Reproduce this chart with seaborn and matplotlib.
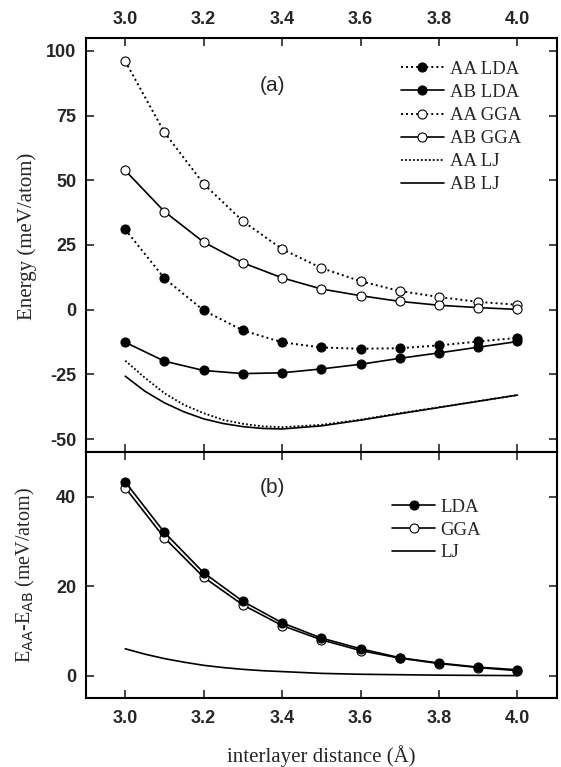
import numpy as np
import pandas as pd
import matplotlib
matplotlib.use("Agg")
import matplotlib.pyplot as plt
import seaborn as sns

# interlayer distances of the DFT points (Angstrom)
x_dft = [3.0, 3.1, 3.2, 3.3, 3.4, 3.5, 3.6, 3.7, 3.8, 3.9, 4.0]

# panel (a): energies (meV/atom)
aa_lda = [31.0, 12.1, -0.3, -8.0, -12.6, -14.6, -15.1, -14.9, -13.8, -12.3, -10.9]
ab_lda = [-12.6, -19.9, -23.5, -24.7, -24.4, -22.9, -21.1, -18.8, -16.7, -14.5, -12.3]
aa_gga = [96.0, 68.5, 48.6, 34.2, 23.4, 16.1, 11.0, 7.2, 4.9, 3.0, 1.9]
ab_gga = [53.8, 37.9, 26.1, 18.1, 12.3, 8.0, 5.4, 3.2, 1.7, 0.8, 0.1]

# Lennard-Jones curves, read on a finer grid
x_lj = [3.0, 3.05, 3.1, 3.15, 3.2, 3.25, 3.3, 3.35, 3.4, 3.5, 3.6, 3.7, 3.8, 3.9, 4.0]
aa_lj = [-19.7, -26.3, -32.3, -36.8, -40.0, -42.6, -44.1, -45.1, -45.4, -44.5, -42.5, -40.0, -37.7, -35.35, -33.0]
ab_lj = [-25.7, -31.5, -36.0, -39.5, -42.2, -44.0, -45.2, -45.9, -46.1, -44.9, -42.7, -40.2, -37.8, -35.4, -33.0]

# panel (b): E_AA - E_AB (meV/atom)
diff_lda = [43.3, 32.0, 23.0, 16.6, 11.8, 8.4, 6.0, 4.0, 2.8, 1.9, 1.3]
diff_gga = [42.0, 30.8, 22.0, 15.8, 11.2, 8.0, 5.6, 3.9, 2.7, 1.8, 1.1]
diff_lj = [6.0, 4.8, 3.8, 3.0, 2.3, 1.8, 1.4, 1.1, 0.9, 0.5, 0.3, 0.2, 0.1, 0.05, 0.0]

x_ticks = [3.0, 3.2, 3.4, 3.6, 3.8, 4.0]
y_ticks_a = [-50, -25, 0, 25, 50, 75, 100]
y_ticks_b = [0, 20, 40]

sns.set_style("ticks")
plt.rcParams["font.family"] = ["Liberation Serif", "DejaVu Serif"]
plt.rcParams["axes.unicode_minus"] = False

fig = plt.figure(figsize=(5.61, 7.67), dpi=100)
ax1 = fig.add_axes([0.1533, 0.4107, 0.8390, 0.5398])
ax2 = fig.add_axes([0.1533, 0.0900, 0.8390, 0.3207])

dotted = (0, (1.0, 1.6))
fine_dot = (0, (1.0, 1.2))
ms = 6.5
mew = 0.8

df_a = pd.DataFrame({"x": x_dft, "aa_lda": aa_lda, "ab_lda": ab_lda,
                     "aa_gga": aa_gga, "ab_gga": ab_gga})
df_lj = pd.DataFrame({"x": x_lj, "aa": aa_lj, "ab": ab_lj, "diff": diff_lj})
df_b = pd.DataFrame({"x": x_dft, "lda": diff_lda, "gga": diff_gga})

# panel (a)
sns.lineplot(data=df_a, x="x", y="aa_lda", ax=ax1, color="black", lw=1.4,
             linestyle=dotted, marker="o", markersize=ms, markerfacecolor="black",
             markeredgecolor="black", markeredgewidth=mew, label="AA LDA")
sns.lineplot(data=df_a, x="x", y="ab_lda", ax=ax1, color="black", lw=1.2,
             marker="o", markersize=ms, markerfacecolor="black",
             markeredgecolor="black", markeredgewidth=mew, label="AB LDA")
sns.lineplot(data=df_a, x="x", y="aa_gga", ax=ax1, color="black", lw=1.4,
             linestyle=dotted, marker="o", markersize=ms, markerfacecolor="white",
             markeredgecolor="black", markeredgewidth=mew, label="AA GGA")
sns.lineplot(data=df_a, x="x", y="ab_gga", ax=ax1, color="black", lw=1.2,
             marker="o", markersize=ms, markerfacecolor="white",
             markeredgecolor="black", markeredgewidth=mew, label="AB GGA")
sns.lineplot(data=df_lj, x="x", y="aa", ax=ax1, color="black", lw=1.3,
             linestyle=fine_dot, label="AA LJ")
sns.lineplot(data=df_lj, x="x", y="ab", ax=ax1, color="black", lw=1.2,
             label="AB LJ")

# panel (b)
sns.lineplot(data=df_b, x="x", y="gga", ax=ax2, color="black", lw=1.2,
             marker="o", markersize=ms, markerfacecolor="white",
             markeredgecolor="black", markeredgewidth=mew, label="GGA")
sns.lineplot(data=df_b, x="x", y="lda", ax=ax2, color="black", lw=1.2,
             marker="o", markersize=ms, markerfacecolor="black",
             markeredgecolor="black", markeredgewidth=mew, label="LDA")
sns.lineplot(data=df_lj, x="x", y="diff", ax=ax2, color="black", lw=1.2,
             label="LJ")

ax1.set_ylim(-55, 105)
ax1.set_yticks(y_ticks_a)
ax2.set_ylim(-5, 50)
ax2.set_yticks(y_ticks_b)

for ax in (ax1, ax2):
    ax.set_xlim(2.9, 4.1)
    ax.set_xticks(x_ticks)
    ax.set_xticklabels([f"{t:.1f}" for t in x_ticks])
    for sp in ax.spines.values():
        sp.set_visible(True)
        sp.set_linewidth(1.5)
        sp.set_color("black")
    ax.tick_params(direction="in", length=6, width=1.2, top=True, bottom=True,
                   left=True, right=True, labelsize=13, pad=7)
    for t in ax.xaxis.get_major_ticks() + ax.yaxis.get_major_ticks():
        for lab in (t.label1, t.label2):
            lab.set_family(["Liberation Sans", "DejaVu Sans"])
            lab.set_fontweight("bold")

ax1.tick_params(axis="x", labeltop=True, labelbottom=False)
ax1.set_xlabel("")
ax1.set_ylabel("Energy (meV/atom)", fontsize=15)
ax1.yaxis.set_label_coords(-0.105, 0.52)

ax2.tick_params(axis="x", labeltop=False, labelbottom=True, pad=9)
ax2.set_xlabel("interlayer distance (Å)", fontsize=15, labelpad=13)
ax2.set_ylabel(r"E$_{\mathrm{AA}}$-E$_{\mathrm{AB}}$ (meV/atom)", fontsize=14.5)
ax2.yaxis.set_label_coords(-0.105, 0.5)

ax1.text(3.376, 86.5, "(a)", ha="center", va="center", fontsize=15,
         family=["Liberation Sans", "DejaVu Sans"])
ax2.text(3.376, 42, "(b)", ha="center", va="center", fontsize=15,
         family=["Liberation Sans", "DejaVu Sans"])

leg1 = ax1.legend(loc="upper left", bbox_to_anchor=(0.669, 0.945), frameon=False,
                  fontsize=13.5, handlelength=2.3, handletextpad=0.3,
                  labelspacing=0.32, borderpad=0, borderaxespad=0, numpoints=1)
h, l = ax2.get_legend_handles_labels()
order = [l.index("LDA"), l.index("GGA"), l.index("LJ")]
leg2 = ax2.legend([h[i] for i in order], [l[i] for i in order],
                  loc="upper left", bbox_to_anchor=(0.65, 0.81), frameon=False,
                  fontsize=13.5, handlelength=2.3, handletextpad=0.3,
                  labelspacing=0.3, borderpad=0, borderaxespad=0, numpoints=1)

fig.savefig("out.png", dpi=100)
